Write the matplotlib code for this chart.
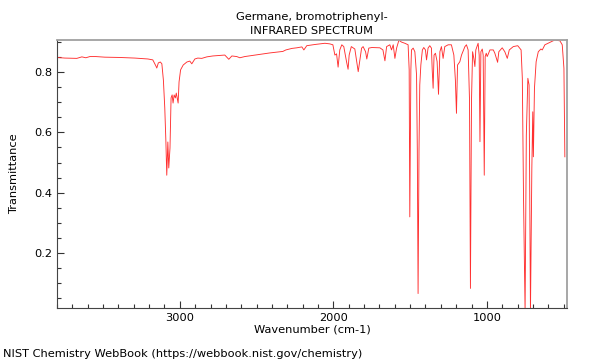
import matplotlib
matplotlib.use("Agg")
import matplotlib.pyplot as plt
from matplotlib.ticker import MultipleLocator

# IR spectrum (wavenumber in cm-1, transmittance)
wavenumber = [
    3801, 3749, 3671, 3638, 3612, 3586, 3547, 3489, 3391, 3293, 3208, 3176,
    3156, 3150, 3140, 3127, 3117, 3107, 3098, 3091, 3085, 3078, 3072, 3064,
    3057, 3050, 3044, 3037, 3029, 3023, 3011, 3005, 2995, 2978, 2954, 2935,
    2922, 2902, 2883, 2857, 2824, 2785, 2707, 2681, 2661, 2629, 2609, 2577,
    2511, 2414, 2329, 2309, 2270, 2238, 2205, 2192, 2173, 2120, 2055, 2023,
    2003, 1990, 1979, 1969, 1958, 1945, 1932, 1914, 1904, 1897, 1883, 1860,
    1838, 1816, 1806, 1790, 1782, 1769, 1749, 1697, 1677, 1664, 1653, 1632,
    1621, 1610, 1599, 1588, 1573, 1556, 1534, 1513, 1506, 1502, 1495, 1491,
    1480, 1469, 1458, 1453, 1448, 1442, 1437, 1430, 1420, 1411, 1400, 1393,
    1383, 1372, 1361, 1356, 1350, 1344, 1335, 1324, 1315, 1306, 1296, 1285,
    1274, 1252, 1231, 1215, 1205, 1198, 1191, 1176, 1165, 1143, 1133, 1122,
    1113, 1107, 1100, 1093, 1085, 1078, 1072, 1057, 1050, 1045, 1039, 1030,
    1024, 1017, 1011, 1004, 998, 991, 980, 958, 948, 930, 922, 900,
    883, 867, 854, 828, 799, 777, 769, 761, 751, 743, 733, 725,
    716, 707, 701, 697, 690, 679, 665, 648, 639, 622, 589, 557,
    524, 509, 498, 492,
]
transmittance = [
    0.848, 0.846, 0.845, 0.850, 0.847, 0.851, 0.851, 0.849, 0.848, 0.846, 0.843, 0.840,
    0.820, 0.813, 0.830, 0.833, 0.827, 0.773, 0.681, 0.574, 0.458, 0.568, 0.482, 0.548,
    0.714, 0.724, 0.697, 0.724, 0.714, 0.730, 0.697, 0.767, 0.807, 0.823, 0.833, 0.836,
    0.827, 0.843, 0.846, 0.845, 0.850, 0.853, 0.856, 0.842, 0.853, 0.851, 0.847, 0.851,
    0.856, 0.863, 0.868, 0.873, 0.878, 0.880, 0.883, 0.873, 0.887, 0.891, 0.895, 0.893,
    0.890, 0.856, 0.860, 0.816, 0.873, 0.890, 0.884, 0.834, 0.809, 0.856, 0.884, 0.876,
    0.801, 0.879, 0.884, 0.867, 0.843, 0.879, 0.881, 0.880, 0.873, 0.837, 0.884, 0.890,
    0.873, 0.890, 0.845, 0.879, 0.905, 0.899, 0.895, 0.890, 0.807, 0.320, 0.807, 0.873,
    0.879, 0.867, 0.790, 0.541, 0.066, 0.541, 0.757, 0.823, 0.873, 0.881, 0.873, 0.840,
    0.879, 0.887, 0.879, 0.807, 0.746, 0.856, 0.862, 0.834, 0.726, 0.867, 0.884, 0.845,
    0.884, 0.890, 0.890, 0.856, 0.773, 0.663, 0.823, 0.834, 0.856, 0.884, 0.890, 0.873,
    0.707, 0.083, 0.707, 0.867, 0.845, 0.818, 0.873, 0.895, 0.856, 0.569, 0.867, 0.876,
    0.856, 0.458, 0.851, 0.862, 0.851, 0.859, 0.873, 0.873, 0.862, 0.832, 0.867, 0.880,
    0.867, 0.845, 0.873, 0.884, 0.887, 0.873, 0.779, 0.375, 0.005, 0.590, 0.779, 0.757,
    0.005, 0.482, 0.668, 0.519, 0.746, 0.834, 0.867, 0.876, 0.873, 0.890, 0.898, 0.906,
    0.903, 0.890, 0.812, 0.519,
]

plt.rcParams["font.family"] = "DejaVu Sans"
plt.rcParams["font.size"] = 8.2

fig = plt.figure(figsize=(6, 3.6), dpi=100)
ax = fig.add_axes([0.095, 0.144, 0.85, 0.745])

ax.plot(wavenumber, transmittance, color="#ff3030", lw=0.65)

ax.set_xlim(3800, 478)
ax.set_ylim(0.0176, 0.906)
ax.xaxis.set_major_locator(MultipleLocator(1000))
ax.xaxis.set_minor_locator(MultipleLocator(100))
ax.yaxis.set_major_locator(MultipleLocator(0.2))
ax.yaxis.set_minor_locator(MultipleLocator(0.05))
ax.tick_params(which="both", direction="in", colors="#333333", labelcolor="black")
ax.tick_params(which="major", length=5, width=0.8)
ax.tick_params(which="minor", length=3, width=0.8)

for side in ["left", "bottom"]:
    ax.spines[side].set_color("#444444")
    ax.spines[side].set_linewidth(0.8)
for side in ["top", "right"]:
    ax.spines[side].set_color("#a0a0a0")
    ax.spines[side].set_linewidth(1.3)

ax.set_xlabel("Wavenumber (cm-1)", labelpad=1)
ax.set_ylabel("Transmittance", labelpad=11)
ax.set_title("Germane, bromotriphenyl-\nINFRARED SPECTRUM", fontsize=8.2, pad=4,
             linespacing=1.55)
fig.text(0.005, 0.008, "NIST Chemistry WebBook (https://webbook.nist.gov/chemistry)",
         fontsize=8.2)

fig.savefig("out.png", dpi=100)
